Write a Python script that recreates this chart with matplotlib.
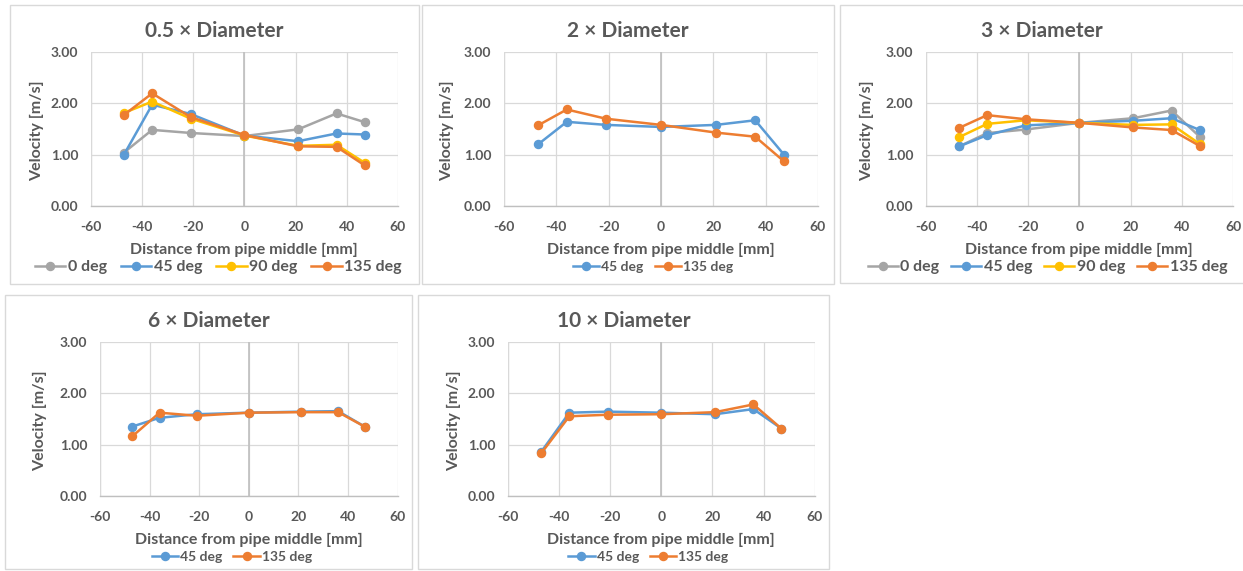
import matplotlib
matplotlib.use("Agg")
import matplotlib.pyplot as plt
from matplotlib.patches import Rectangle
from matplotlib.lines import Line2D

W, H = 1243, 571

# ---------------- data ----------------
distance_mm = [-47, -36, -21, 0, 21, 36, 47]

d05_0deg = [1.04, 1.48, 1.42, 1.36, 1.49, 1.80, 1.63]
d05_45deg = [1.00, 1.97, 1.79, 1.37, 1.26, 1.41, 1.39]
d05_90deg = [1.81, 2.03, 1.70, 1.37, 1.17, 1.19, 0.84]
d05_135deg = [1.77, 2.19, 1.73, 1.38, 1.16, 1.15, 0.79]

d2_45deg = [1.20, 1.64, 1.58, 1.54, 1.58, 1.67, 1.00]
d2_135deg = [1.57, 1.88, 1.70, 1.58, 1.43, 1.35, 0.87]

d3_0deg = [1.16, 1.42, 1.49, 1.62, 1.71, 1.86, 1.35]
d3_45deg = [1.16, 1.38, 1.57, 1.62, 1.66, 1.71, 1.48]
d3_90deg = [1.34, 1.60, 1.67, 1.62, 1.58, 1.59, 1.21]
d3_135deg = [1.52, 1.77, 1.69, 1.62, 1.53, 1.48, 1.17]

d6_45deg = [1.35, 1.52, 1.59, 1.62, 1.64, 1.65, 1.34]
d6_135deg = [1.16, 1.62, 1.56, 1.62, 1.63, 1.63, 1.34]

d10_45deg = [0.86, 1.62, 1.64, 1.62, 1.59, 1.69, 1.31]
d10_135deg = [0.83, 1.55, 1.58, 1.59, 1.63, 1.78, 1.31]

titles = ["0.5 × Diameter", "2 × Diameter", "3 × Diameter", "6 × Diameter", "10 × Diameter"]
x_ticks = [-60, -40, -20, 0, 20, 40, 60]
y_ticks = [0.0, 1.0, 2.0, 3.0]
x_label = "Distance from pipe middle [mm]"
y_label = "Velocity [m/s]"

colors = {"0 deg": "#A5A5A5", "45 deg": "#5B9BD5", "90 deg": "#FFC000", "135 deg": "#ED7D31"}

panels = [
    {"title": titles[0], "series": [("0 deg", d05_0deg), ("45 deg", d05_45deg), ("90 deg", d05_90deg), ("135 deg", d05_135deg)],
     "box": (10, 5, 419, 284), "ax": (90.7, 51.7, 398, 206), "ylab_x": 37, "colsp": 0.88, "leg_fs": 11.5, "leg_dx": -26},
    {"title": titles[1], "series": [("45 deg", d2_45deg), ("135 deg", d2_135deg)],
     "box": (422, 5, 834, 284), "ax": (504, 52, 818, 206), "ylab_x": 447, "colsp": 0.8, "leg_fs": 10, "leg_dx": -8},
    {"title": titles[2], "series": [("0 deg", d3_0deg), ("45 deg", d3_45deg), ("90 deg", d3_90deg), ("135 deg", d3_135deg)],
     "box": (840, 5, 1250, 283), "ax": (925.7, 52, 1233, 206), "ylab_x": 867, "colsp": 0.73, "leg_fs": 11.5, "leg_dx": -32},
    {"title": titles[3], "series": [("45 deg", d6_45deg), ("135 deg", d6_135deg)],
     "box": (5, 295, 412, 569), "ax": (100, 341.7, 397.7, 496), "ylab_x": 40, "colsp": 0.8, "leg_fs": 10, "leg_dx": -17},
    {"title": titles[4], "series": [("45 deg", d10_45deg), ("135 deg", d10_135deg)],
     "box": (418, 295, 829, 569), "ax": (508, 341.7, 814.7, 496), "ylab_x": 454, "colsp": 0.8, "leg_fs": 10, "leg_dx": -13},
]

FONT = "Lato"
TXT = "#595959"
plt.rcParams["font.family"] = [FONT, "DejaVu Sans"]

fig = plt.figure(figsize=(W / 100, H / 100), dpi=100)


def fx(x):
    return x / W


def fy(y):
    return 1 - y / H


for p in panels:
    bx0, by0, bx1, by1 = p["box"]
    fig.patches.append(Rectangle((fx(bx0), fy(by1)), fx(bx1) - fx(bx0), fy(by0) - fy(by1),
                                 transform=fig.transFigure, fill=False, edgecolor="#D9D9D9", linewidth=1.0))
    ax0, ay0, ax1, ay1 = p["ax"]
    ax = fig.add_axes([fx(ax0), fy(ay1), fx(ax1) - fx(ax0), fy(ay0) - fy(ay1)])
    for name, vals in p["series"]:
        ax.plot(distance_mm, vals, color=colors[name], marker="o", markersize=5.8, linewidth=1.8, label=name,
                zorder=3, clip_on=False)
    ax.set_xlim(-60, 60)
    ax.set_ylim(0, 3)
    ax.set_xticks(x_ticks)
    ax.set_yticks(y_ticks)
    ax.set_xticklabels([str(t) for t in x_ticks])
    ax.set_yticklabels([f"{t:.2f}" for t in y_ticks])
    ax.grid(True, color="#D9D9D9", linewidth=0.9, zorder=0)
    ax.set_axisbelow(True)
    for s in ["top", "right", "left"]:
        ax.spines[s].set_visible(False)
    ax.spines["bottom"].set_color("#BFBFBF")
    ax.spines["bottom"].set_linewidth(1.0)
    ax.axvline(0, color="#BFBFBF", linewidth=1.2, zorder=1)
    ax.axvline(-60, color="#D9D9D9", linewidth=0.9, zorder=1)
    ax.tick_params(axis="both", length=0, labelsize=10, labelcolor=TXT)
    ax.tick_params(axis="x", pad=11)
    ax.tick_params(axis="y", pad=9)
    for lab in ax.get_xticklabels() + ax.get_yticklabels():
        lab.set_fontweight("bold")
    # title
    tcx = (bx0 + min(bx1, W)) / 2
    fig.text(fx(tcx), fy(by0 + 26), p["title"], ha="center", va="center",
             fontsize=15, fontweight="bold", color=TXT)
    # y label
    fig.text(fx(p["ylab_x"]), fy((ay0 + ay1) / 2 + 2), y_label, rotation=90, ha="center", va="center",
             fontsize=11.5, fontweight="bold", color=TXT)
    # x label
    fig.text(fx((ax0 + ax1) / 2), fy(ay1 + 44), x_label, ha="center", va="center",
             fontsize=11.5, fontweight="bold", color=TXT)
    # legend
    handles = [Line2D([0], [0], color=colors[n], marker="o", markersize=5.8, linewidth=1.8) for n, _ in p["series"]]
    fig.legend(handles, [n for n, _ in p["series"]], loc="center", ncol=len(handles),
               bbox_to_anchor=(fx((ax0 + ax1) / 2 + p["leg_dx"]), fy(ay1 + 61)),
               frameon=False, handlelength=1.9, handletextpad=0.15,
               columnspacing=p["colsp"], borderpad=0, labelcolor=TXT,
               prop={"family": [FONT, "DejaVu Sans"], "weight": "bold", "size": p["leg_fs"]})

fig.savefig("out.png", dpi=100, facecolor="white")
